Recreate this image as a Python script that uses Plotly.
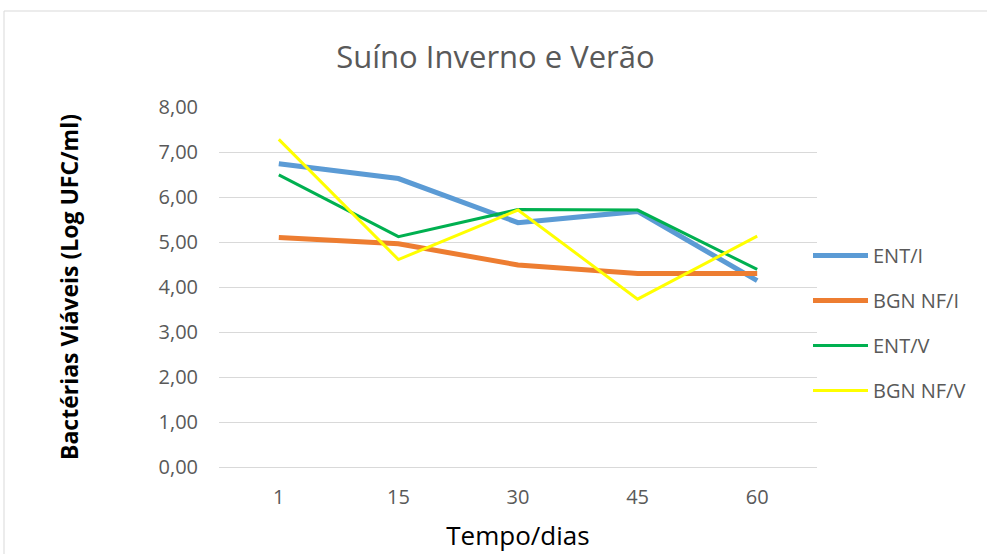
import plotly.graph_objects as go

dias = ["1", "15", "30", "45", "60"]
ent_i = [6.74, 6.41, 5.43, 5.68, 4.14]
bgn_nf_i = [5.10, 4.96, 4.49, 4.30, 4.30]
ent_v = [6.49, 5.12, 5.72, 5.71, 4.39]
bgn_nf_v = [7.28, 4.61, 5.71, 3.73, 5.13]
y_ticks = [0, 1, 2, 3, 4, 5, 6, 7, 8]

series = [
    ("ENT/I", ent_i, "#5b9bd5", 5),
    ("BGN NF/I", bgn_nf_i, "#ed7d31", 5),
    ("ENT/V", ent_v, "#00b050", 3),
    ("BGN NF/V", bgn_nf_v, "#ffff00", 3),
]

fig = go.Figure()
for name, vals, color, w in series:
    fig.add_trace(go.Scatter(
        x=dias, y=vals, name=name, mode="lines", legendgroup=name,
        line=dict(color=color, width=w),
    ))

L, R, T, B = 219, 817, 107, 467
W, H = 987, 554
pw, ph = R - L, B - T

def px(x):
    return (x - L) / pw

def py(y):
    return (B - y) / ph

fig.update_layout(
    width=W, height=H,
    margin=dict(l=L, r=W - R, t=T, b=H - B, pad=0, autoexpand=False),
    paper_bgcolor="white", plot_bgcolor="white",
    separators=",.",
    font=dict(family="Open Sans, Noto Sans, sans-serif", color="#595959"),
    title=dict(text="Suíno Inverno e Verão", x=0.502, xanchor="center",
               y=1 - 57 / H, yanchor="middle",
               font=dict(size=31, color="#595959")),
    xaxis=dict(
        type="category", range=[-0.5, 4.5], showgrid=False, showline=True,
        linecolor="#d9d9d9", linewidth=1, ticks="", ticklabelstandoff=12,
        tickfont=dict(size=20, color="#595959"),
        title=dict(text="Tempo/dias", font=dict(size=26, color="#000000"), standoff=17),
    ),
    yaxis=dict(
        range=[0, 8], tickvals=y_ticks, tickformat=".2f", showgrid=True,
        gridcolor="#d9d9d9", gridwidth=1, zeroline=False, showline=False,
        tickfont=dict(size=20, color="#595959"), ticks="", ticklabelstandoff=20,
        title=dict(text="<b>Bactérias Viáveis (Log UFC/ml)</b>",
                   font=dict(size=23, color="#000000"), standoff=73),
    ),
    legend=dict(
        x=px(808), y=py(236), xanchor="left", yanchor="top",
        font=dict(size=20, color="#595959"),
        tracegroupgap=16, traceorder="grouped", itemwidth=55,
        bgcolor="rgba(0,0,0,0)",
    ),
    showlegend=True,
)

fig.add_shape(type="rect", xref="paper", yref="paper",
              x0=px(4), y0=py(560), x1=px(995), y1=py(11),
              line=dict(color="#d9d9d9", width=1), fillcolor="rgba(0,0,0,0)",
              layer="below")

fig.write_html("out.html", config={"displayModeBar": False},
               post_script="document.body.style.margin='0';")
